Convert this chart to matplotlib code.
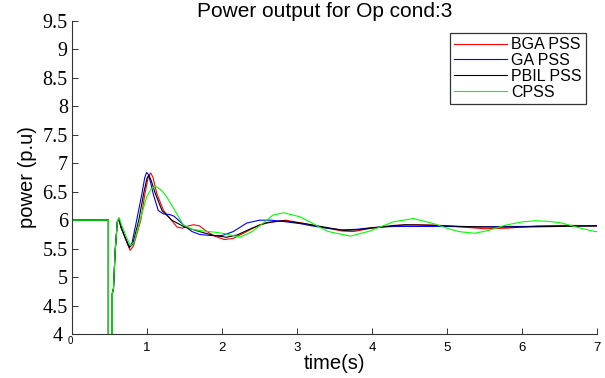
import matplotlib
matplotlib.use("Agg")
import matplotlib.pyplot as plt
from matplotlib.transforms import ScaledTranslation

# ---- data -------------------------------------------------------------
# shared pre-fault / fault segment (all controllers identical)
t_pre = [0.0, 0.485, 0.485, 0.537, 0.537, 0.553, 0.575, 0.604]
v_pre = [6.0, 6.0, 2.0, 2.0, 4.71, 4.80, 5.45, 5.97]

t_bga = [0.627, 0.65, 0.71, 0.775, 0.82, 0.917, 0.97, 1.02, 1.05, 1.08, 1.13, 1.22,
         1.307, 1.40, 1.47, 1.55, 1.62, 1.70, 1.80, 1.90, 2.03, 2.15, 2.30, 2.50,
         2.68, 2.85, 3.10, 3.40, 3.60, 3.75, 4.00, 4.30, 4.60, 4.90, 5.20, 5.50,
         5.80, 6.20, 6.60, 7.00]
v_bga = [6.02, 5.88, 5.68, 5.47, 5.55, 6.00, 6.45, 6.78, 6.83, 6.75, 6.47, 6.17,
         6.03, 5.88, 5.86, 5.90, 5.92, 5.90, 5.80, 5.72, 5.66, 5.68, 5.78, 5.92,
         5.97, 6.00, 5.94, 5.86, 5.81, 5.80, 5.86, 5.91, 5.92, 5.91, 5.88, 5.85,
         5.86, 5.90, 5.91, 5.90]

t_ga = [0.627, 0.65, 0.707, 0.76, 0.80, 0.862, 0.93, 0.97, 0.995, 1.02, 1.05, 1.085,
        1.15, 1.22, 1.30, 1.36, 1.42, 1.50, 1.60, 1.70, 1.85, 2.00, 2.15, 2.33,
        2.50, 2.65, 2.80, 3.04, 3.20, 3.40, 3.60, 3.80, 4.00, 4.30, 4.60, 5.00,
        5.40, 5.80, 6.20, 6.60, 7.00]
v_ga = [6.03, 5.90, 5.70, 5.53, 5.60, 6.00, 6.45, 6.75, 6.84, 6.80, 6.65, 6.45,
        6.17, 6.11, 6.10, 6.07, 6.00, 5.90, 5.80, 5.75, 5.73, 5.73, 5.80, 5.95,
        6.00, 6.00, 5.98, 5.94, 5.90, 5.86, 5.83, 5.84, 5.87, 5.89, 5.89, 5.89,
        5.88, 5.89, 5.89, 5.90, 5.90]

t_pbil = [0.627, 0.65, 0.707, 0.765, 0.81, 0.89, 0.96, 1.00, 1.027, 1.06, 1.11, 1.20,
          1.33, 1.50, 1.75, 1.90, 2.06, 2.20, 2.40, 2.60, 2.82, 3.10, 3.40, 3.62,
          3.80, 4.10, 4.44, 4.80, 5.20, 5.60, 6.00, 6.50, 7.00]
v_pbil = [6.03, 5.89, 5.70, 5.52, 5.58, 6.00, 6.50, 6.74, 6.79, 6.68, 6.47, 6.17,
          6.00, 5.88, 5.78, 5.73, 5.70, 5.74, 5.86, 5.96, 5.99, 5.94, 5.87, 5.82,
          5.83, 5.88, 5.92, 5.91, 5.89, 5.88, 5.88, 5.89, 5.90]

t_cpss = [0.627, 0.66, 0.72, 0.78, 0.83, 0.907, 0.995, 1.06, 1.12, 1.19, 1.262, 1.395,
          1.48, 1.60, 1.75, 1.90, 2.05, 2.24, 2.40, 2.55, 2.68, 2.82, 3.04, 3.20,
          3.31, 3.42, 3.71, 3.97, 4.28, 4.55, 4.82, 5.00, 5.15, 5.37, 5.55, 5.77,
          6.00, 6.17, 6.35, 6.53, 6.75, 6.97, 7.00]
v_cpss = [6.05, 5.92, 5.72, 5.55, 5.62, 6.00, 6.41, 6.56, 6.59, 6.53, 6.41, 6.12,
          5.92, 5.84, 5.81, 5.79, 5.76, 5.70, 5.80, 5.95, 6.09, 6.13, 6.06, 5.95,
          5.87, 5.80, 5.72, 5.81, 5.97, 6.03, 5.94, 5.86, 5.80, 5.77, 5.82, 5.91,
          5.97, 5.99, 5.98, 5.95, 5.87, 5.80, 5.80]

labels = ["BGA PSS", "GA PSS", "PBIL PSS", "CPSS"]
colors = ["#ff0000", "#0000ff", "#000000", "#00ff00"]
series = [(t_bga, v_bga), (t_ga, v_ga), (t_pbil, v_pbil), (t_cpss, v_cpss)]

x_ticks = [0, 1, 2, 3, 4, 5, 6, 7]
y_ticks = [4, 4.5, 5, 5.5, 6, 6.5, 7, 7.5, 8, 8.5, 9, 9.5]
y_ticklabels = ["4", "4.5", "5", "5.5", "6", "6.5", "7", "7.5", "8", "8.5", "9", "9.5"]

# ---- figure -----------------------------------------------------------
sans = ["Liberation Sans", "DejaVu Sans"]
serif = ["Liberation Serif", "DejaVu Serif"]

fig = plt.figure(figsize=(6.05, 3.78), dpi=100)
ax = fig.add_axes([0.119, 0.1164, 0.868, 0.828])

for (t, v), c, lab in zip(series, colors, labels):
    ax.plot(t_pre + t, v_pre + v, color=c, lw=0.8, label=lab)

ax.set_xlim(0, 7)
ax.set_ylim(4, 9.5)
for s in ("top", "right"):
    ax.spines[s].set_visible(False)
for s in ("left", "bottom"):
    ax.spines[s].set_linewidth(0.8)
    ax.spines[s].set_color("#333333")

ax.set_xticks(x_ticks)
ax.set_xticklabels([""] + [str(x) for x in x_ticks[1:]], fontfamily=sans, fontsize=9.5)
ax.set_yticks(y_ticks)
ax.set_yticklabels(y_ticklabels, fontfamily=serif, fontsize=14.5)
ax.tick_params(direction="in", length=4, width=0.7, colors="#333333", labelcolor="black")
ax.tick_params(axis="x", pad=6)
ax.tick_params(axis="y", pad=3)

# small origin "0" label as in the original
ax.text(0, 0, "0", transform=ax.transAxes + ScaledTranslation(-1.5 / 72, -1.5 / 72, fig.dpi_scale_trans),
        ha="center", va="top", fontsize=7, fontfamily=sans)

ax.set_title("Power output for Op cond:3", fontfamily=sans, fontsize=15, pad=2, x=0.482)
ax.set_xlabel("time(s)", fontfamily=sans, fontsize=14.5, labelpad=0)
ax.set_ylabel("power (p.u)", fontfamily=sans, fontsize=14.5, labelpad=4)

leg = ax.legend(loc="upper right", bbox_to_anchor=(0.979, 0.961), borderaxespad=0,
                prop={"family": sans, "size": 11.5}, frameon=True, fancybox=False,
                labelspacing=0.05, handlelength=3.3, handletextpad=0.3,
                borderpad=0.25)
leg.get_frame().set_edgecolor("black")
leg.get_frame().set_linewidth(0.9)

# nudge the "4" tick label left so it sits beside the small origin "0"
fig.canvas.draw()
lbl4 = ax.yaxis.get_major_ticks()[0].label1
lbl4.set_transform(lbl4.get_transform() + ScaledTranslation(-4 / 72, 0, fig.dpi_scale_trans))

fig.savefig("out.png", dpi=100)
